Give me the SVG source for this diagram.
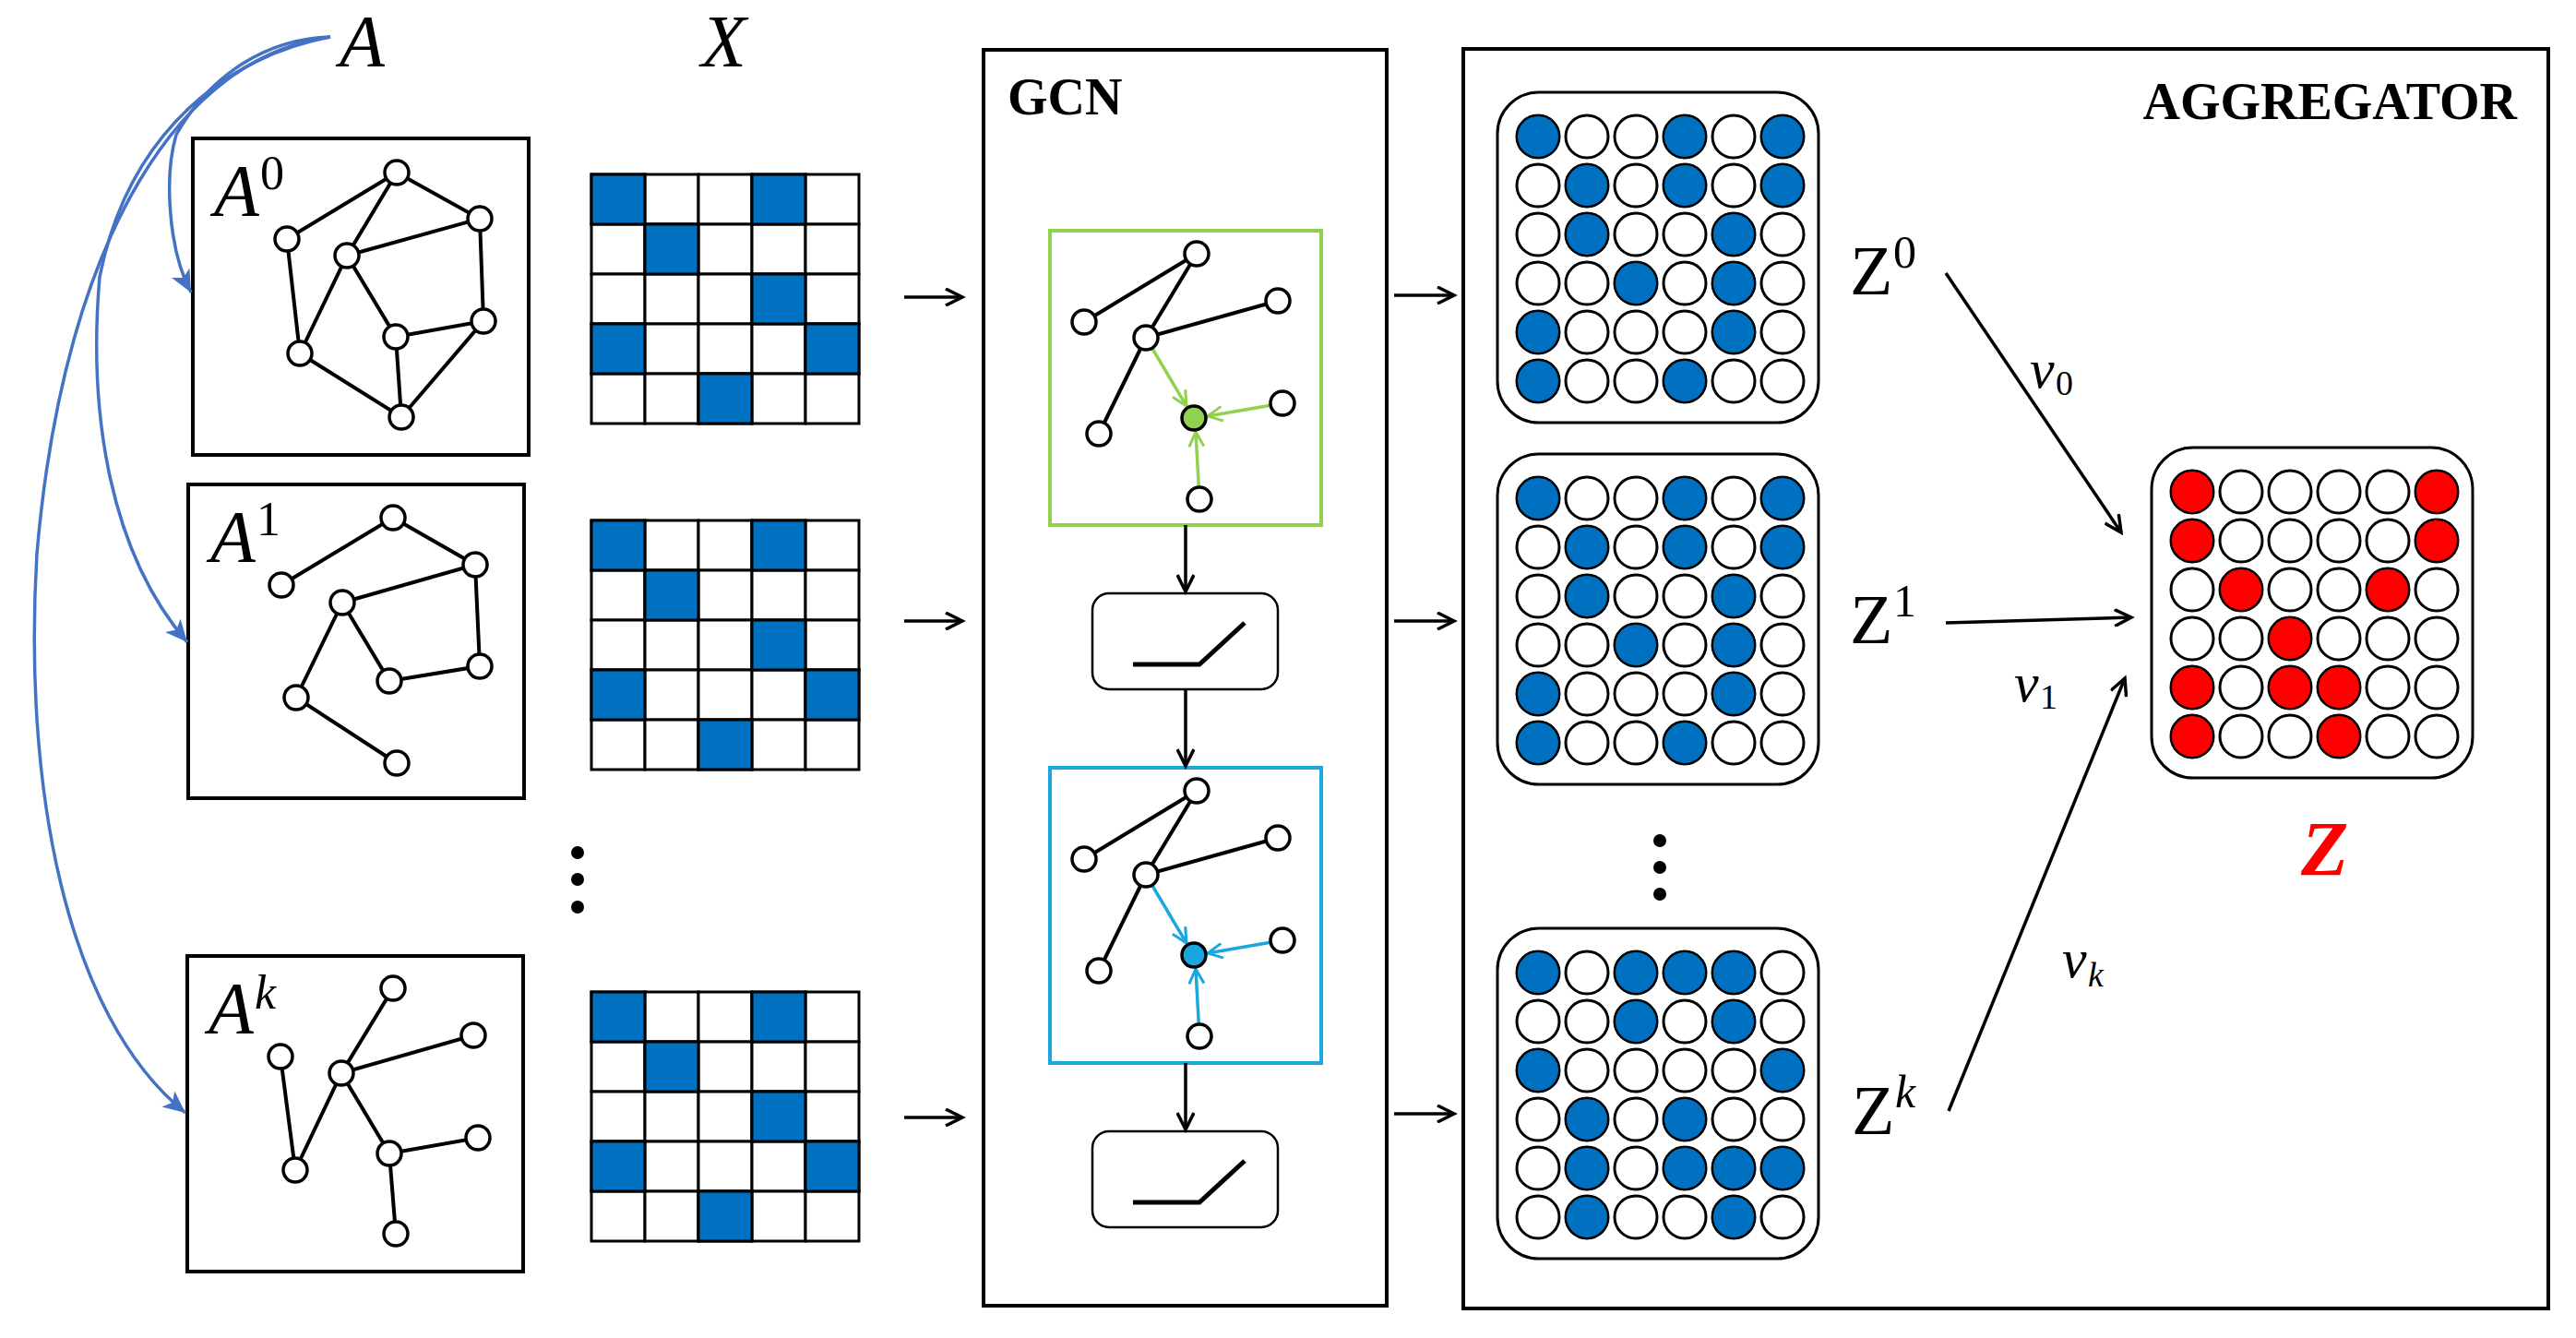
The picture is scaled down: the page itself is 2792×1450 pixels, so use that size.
<svg xmlns="http://www.w3.org/2000/svg" width="2792" height="1450" viewBox="0 0 2792 1450">
<style>
.bx{fill:#fff;stroke:#000;stroke-width:4}
.e{stroke:#000;stroke-width:4;fill:none}
.n{fill:#fff;stroke:#000;stroke-width:3.5}
.cell{fill:#fff;stroke:#000;stroke-width:3}
.bl{fill:#0070C0;stroke:#000;stroke-width:3}
.c{fill:#fff;stroke:#000;stroke-width:3}
.cb{fill:#0070C0;stroke:#000;stroke-width:2}
.cr{fill:#FF0000;stroke:#000;stroke-width:2}
.ar{stroke:#000;stroke-width:3.5;fill:none;marker-end:url(#ah)}
.blue{stroke:#4472C4;stroke-width:3.5;fill:none;marker-end:url(#bh)}
.m{font-family:"Liberation Serif",serif;font-style:italic}
.z{font-family:"Liberation Serif",serif}
.t{font-family:"Liberation Serif",serif;font-weight:bold}
</style>
<defs>
<marker id="ah" markerWidth="12" markerHeight="12" refX="10" refY="6" orient="auto" markerUnits="userSpaceOnUse" viewBox="0 0 12 12"><polyline points="0,0 10,6 0,12" fill="none" stroke="#000" stroke-width="2.5"/></marker>
<marker id="ah2" markerWidth="24" markerHeight="20" refX="20" refY="10" orient="auto" markerUnits="userSpaceOnUse" viewBox="0 0 24 20"><polyline points="2,1 20,10 2,19" fill="none" stroke="#000" stroke-width="3.5"/></marker>
<marker id="bh" markerWidth="26" markerHeight="22" refX="24" refY="11" orient="auto" markerUnits="userSpaceOnUse" viewBox="0 0 26 22"><polygon points="0,0 24,11 0,22 6,11" fill="#4472C4"/></marker>
<marker id="gh" markerWidth="20" markerHeight="18" refX="18" refY="9" orient="auto" markerUnits="userSpaceOnUse" viewBox="0 0 20 18"><polyline points="2,1 18,9 2,17" fill="none" stroke="#92D050" stroke-width="3"/></marker>
<marker id="ch" markerWidth="20" markerHeight="18" refX="18" refY="9" orient="auto" markerUnits="userSpaceOnUse" viewBox="0 0 20 18"><polyline points="2,1 18,9 2,17" fill="none" stroke="#1AA7E0" stroke-width="3"/></marker>
<g id="xm">
<rect class="cell" x="0" y="0" width="58" height="54"/><rect class="cell" x="58" y="0" width="58" height="54"/><rect class="cell" x="116" y="0" width="58" height="54"/><rect class="cell" x="174" y="0" width="58" height="54"/><rect class="cell" x="232" y="0" width="58" height="54"/>
<rect class="cell" x="0" y="54" width="58" height="54"/><rect class="cell" x="58" y="54" width="58" height="54"/><rect class="cell" x="116" y="54" width="58" height="54"/><rect class="cell" x="174" y="54" width="58" height="54"/><rect class="cell" x="232" y="54" width="58" height="54"/>
<rect class="cell" x="0" y="108" width="58" height="54"/><rect class="cell" x="58" y="108" width="58" height="54"/><rect class="cell" x="116" y="108" width="58" height="54"/><rect class="cell" x="174" y="108" width="58" height="54"/><rect class="cell" x="232" y="108" width="58" height="54"/>
<rect class="cell" x="0" y="162" width="58" height="54"/><rect class="cell" x="58" y="162" width="58" height="54"/><rect class="cell" x="116" y="162" width="58" height="54"/><rect class="cell" x="174" y="162" width="58" height="54"/><rect class="cell" x="232" y="162" width="58" height="54"/>
<rect class="cell" x="0" y="216" width="58" height="54"/><rect class="cell" x="58" y="216" width="58" height="54"/><rect class="cell" x="116" y="216" width="58" height="54"/><rect class="cell" x="174" y="216" width="58" height="54"/><rect class="cell" x="232" y="216" width="58" height="54"/>
<rect class="bl" x="0" y="0" width="58" height="54"/><rect class="bl" x="174" y="0" width="58" height="54"/><rect class="bl" x="58" y="54" width="58" height="54"/><rect class="bl" x="174" y="108" width="58" height="54"/><rect class="bl" x="0" y="162" width="58" height="54"/><rect class="bl" x="232" y="162" width="58" height="54"/><rect class="bl" x="116" y="216" width="58" height="54"/>
</g>
<g id="zm">
<rect x="-44" y="-48" width="348" height="358" rx="45" fill="#fff" stroke="#000" stroke-width="3"/>
<g class="c">
<circle cx="0" cy="0" r="23"/><circle cx="53" cy="0" r="23"/><circle cx="106" cy="0" r="23"/><circle cx="159" cy="0" r="23"/><circle cx="212" cy="0" r="23"/><circle cx="265" cy="0" r="23"/>
<circle cx="0" cy="53" r="23"/><circle cx="53" cy="53" r="23"/><circle cx="106" cy="53" r="23"/><circle cx="159" cy="53" r="23"/><circle cx="212" cy="53" r="23"/><circle cx="265" cy="53" r="23"/>
<circle cx="0" cy="106" r="23"/><circle cx="53" cy="106" r="23"/><circle cx="106" cy="106" r="23"/><circle cx="159" cy="106" r="23"/><circle cx="212" cy="106" r="23"/><circle cx="265" cy="106" r="23"/>
<circle cx="0" cy="159" r="23"/><circle cx="53" cy="159" r="23"/><circle cx="106" cy="159" r="23"/><circle cx="159" cy="159" r="23"/><circle cx="212" cy="159" r="23"/><circle cx="265" cy="159" r="23"/>
<circle cx="0" cy="212" r="23"/><circle cx="53" cy="212" r="23"/><circle cx="106" cy="212" r="23"/><circle cx="159" cy="212" r="23"/><circle cx="212" cy="212" r="23"/><circle cx="265" cy="212" r="23"/>
<circle cx="0" cy="265" r="23"/><circle cx="53" cy="265" r="23"/><circle cx="106" cy="265" r="23"/><circle cx="159" cy="265" r="23"/><circle cx="212" cy="265" r="23"/><circle cx="265" cy="265" r="23"/>
</g>
</g>
<g id="relu">
<rect x="0" y="0" width="201" height="104" rx="18" fill="#fff" stroke="#000" stroke-width="2.5"/>
<polyline points="44,77 116,77 165,32" fill="none" stroke="#000" stroke-width="5"/>
</g>
</defs>
<rect width="2792" height="1450" fill="#fff"/>

<text class="m" x="368" y="72" font-size="80">A</text>
<text class="m" x="760" y="72" font-size="80">X</text>

<g id="A0">
<rect class="bx" x="209" y="150" width="364" height="343"/>
<text class="m" x="232" y="234" font-size="80">A</text><text class="z" x="282" y="205" font-size="52">0</text>
<g class="e"><path d="M311,259L430,187L376,277M430,187L520,237L376,277M520,237L524,348M311,259L325,383L376,277L429,365L524,348L435,452L325,383M429,365L435,452"/></g>
<g class="n"><circle cx="430" cy="187" r="13"/><circle cx="520" cy="237" r="13"/><circle cx="311" cy="259" r="13"/><circle cx="376" cy="277" r="13"/><circle cx="524" cy="348" r="13"/><circle cx="429" cy="365" r="13"/><circle cx="325" cy="383" r="13"/><circle cx="435" cy="452" r="13"/></g>
</g>
<g id="A1">
<rect class="bx" x="204" y="525" width="364" height="340"/>
<text class="m" x="228" y="609" font-size="80">A</text><text class="z" x="278" y="580" font-size="52">1</text>
<g class="e"><path d="M305,634L426,561L515,612L371,653L422,738L520,722L515,612M371,653L321,756L430,827"/></g>
<g class="n"><circle cx="426" cy="561" r="13"/><circle cx="515" cy="612" r="13"/><circle cx="305" cy="634" r="13"/><circle cx="371" cy="653" r="13"/><circle cx="520" cy="722" r="13"/><circle cx="422" cy="738" r="13"/><circle cx="321" cy="756" r="13"/><circle cx="430" cy="827" r="13"/></g>
</g>
<g id="dots1"><circle cx="626" cy="924" r="7"/><circle cx="626" cy="953" r="7"/><circle cx="626" cy="983" r="7"/></g>
<g id="Ak">
<rect class="bx" x="203" y="1036" width="364" height="342"/>
<text class="m" x="226" y="1120" font-size="80">A</text><text class="m" x="276" y="1093" font-size="52">k</text>
<g class="e"><path d="M426,1071L370,1163L513,1122M304,1145L320,1268L370,1163L422,1250L518,1233M422,1250L429,1337"/></g>
<g class="n"><circle cx="426" cy="1071" r="13"/><circle cx="513" cy="1122" r="13"/><circle cx="304" cy="1145" r="13"/><circle cx="370" cy="1163" r="13"/><circle cx="518" cy="1233" r="13"/><circle cx="422" cy="1250" r="13"/><circle cx="320" cy="1268" r="13"/><circle cx="429" cy="1337" r="13"/></g>
</g>

<g id="X0"><use href="#xm" x="641" y="189"/></g>
<g id="X1"><use href="#xm" x="641" y="564"/></g>
<g id="Xk"><use href="#xm" x="641" y="1075"/></g>

<g id="GCN">
<rect x="1066" y="54" width="437" height="1361" fill="none" stroke="#000" stroke-width="4"/>
<text class="t" x="1092" y="124" font-size="56">GCN</text>
<rect x="1138" y="250" width="294" height="319" fill="#fff" stroke="#92D050" stroke-width="4"/>
<path class="e" stroke-width="3.5" d="M1175,349L1297,275L1242,366L1385,326M1242,366L1191,470"/>
<g stroke="#92D050" stroke-width="3.5" fill="none"><line x1="1242" y1="366" x2="1286" y2="440" marker-end="url(#gh)"/><line x1="1390" y1="437" x2="1309" y2="451" marker-end="url(#gh)"/><line x1="1300" y1="541" x2="1296" y2="468" marker-end="url(#gh)"/></g>
<g class="n"><circle cx="1297" cy="275" r="13"/><circle cx="1175" cy="349" r="13"/><circle cx="1242" cy="366" r="13"/><circle cx="1385" cy="326" r="13"/><circle cx="1390" cy="437" r="13"/><circle cx="1191" cy="470" r="13"/><circle cx="1300" cy="541" r="13"/><circle cx="1294" cy="453" r="13" fill="#92D050"/></g>
<use href="#relu" x="1184" y="643"/>
<rect x="1138" y="832" width="294" height="320" fill="#fff" stroke="#1AA7E0" stroke-width="4"/>
<path class="e" stroke-width="3.5" d="M1175,931L1297,857L1242,948L1385,908M1242,948L1191,1052"/>
<g stroke="#1AA7E0" stroke-width="3.5" fill="none"><line x1="1242" y1="948" x2="1286" y2="1022" marker-end="url(#ch)"/><line x1="1390" y1="1019" x2="1309" y2="1033" marker-end="url(#ch)"/><line x1="1300" y1="1123" x2="1296" y2="1050" marker-end="url(#ch)"/></g>
<g class="n"><circle cx="1297" cy="857" r="13"/><circle cx="1175" cy="931" r="13"/><circle cx="1242" cy="948" r="13"/><circle cx="1385" cy="908" r="13"/><circle cx="1390" cy="1019" r="13"/><circle cx="1191" cy="1052" r="13"/><circle cx="1300" cy="1123" r="13"/><circle cx="1294" cy="1035" r="13" fill="#1AA7E0"/></g>
<use href="#relu" x="1184" y="1226"/>
</g>

<g id="AGG">
<rect x="1586" y="53" width="1176" height="1365" fill="none" stroke="#000" stroke-width="4"/>
<text class="t" x="2728" y="129" font-size="56" text-anchor="end">AGGREGATOR</text>
<g id="Z0"><use href="#zm" x="1667" y="148"/>
<g class="cb"><circle cx="1667" cy="148" r="23"/><circle cx="1826" cy="148" r="23"/><circle cx="1932" cy="148" r="23"/><circle cx="1720" cy="201" r="23"/><circle cx="1826" cy="201" r="23"/><circle cx="1932" cy="201" r="23"/><circle cx="1720" cy="254" r="23"/><circle cx="1879" cy="254" r="23"/><circle cx="1773" cy="307" r="23"/><circle cx="1879" cy="307" r="23"/><circle cx="1667" cy="360" r="23"/><circle cx="1879" cy="360" r="23"/><circle cx="1667" cy="413" r="23"/><circle cx="1826" cy="413" r="23"/></g></g>
<g id="Z1"><use href="#zm" x="1667" y="540"/>
<g class="cb"><circle cx="1667" cy="540" r="23"/><circle cx="1826" cy="540" r="23"/><circle cx="1932" cy="540" r="23"/><circle cx="1720" cy="593" r="23"/><circle cx="1826" cy="593" r="23"/><circle cx="1932" cy="593" r="23"/><circle cx="1720" cy="646" r="23"/><circle cx="1879" cy="646" r="23"/><circle cx="1773" cy="699" r="23"/><circle cx="1879" cy="699" r="23"/><circle cx="1667" cy="752" r="23"/><circle cx="1879" cy="752" r="23"/><circle cx="1667" cy="805" r="23"/><circle cx="1826" cy="805" r="23"/></g></g>
<g id="dots2"><circle cx="1799" cy="911" r="7"/><circle cx="1799" cy="940" r="7"/><circle cx="1799" cy="969" r="7"/></g>
<g id="Zk"><use href="#zm" x="1667" y="1054"/>
<g class="cb"><circle cx="1667" cy="1054" r="23"/><circle cx="1773" cy="1054" r="23"/><circle cx="1826" cy="1054" r="23"/><circle cx="1879" cy="1054" r="23"/><circle cx="1773" cy="1107" r="23"/><circle cx="1879" cy="1107" r="23"/><circle cx="1667" cy="1160" r="23"/><circle cx="1932" cy="1160" r="23"/><circle cx="1720" cy="1213" r="23"/><circle cx="1826" cy="1213" r="23"/><circle cx="1720" cy="1266" r="23"/><circle cx="1826" cy="1266" r="23"/><circle cx="1879" cy="1266" r="23"/><circle cx="1932" cy="1266" r="23"/><circle cx="1720" cy="1319" r="23"/><circle cx="1879" cy="1319" r="23"/></g></g>
<g id="Zout"><use href="#zm" x="2376" y="533"/>
<g class="cr"><circle cx="2376" cy="533" r="23"/><circle cx="2641" cy="533" r="23"/><circle cx="2376" cy="586" r="23"/><circle cx="2641" cy="586" r="23"/><circle cx="2429" cy="639" r="23"/><circle cx="2588" cy="639" r="23"/><circle cx="2482" cy="692" r="23"/><circle cx="2376" cy="745" r="23"/><circle cx="2482" cy="745" r="23"/><circle cx="2535" cy="745" r="23"/><circle cx="2376" cy="798" r="23"/><circle cx="2535" cy="798" r="23"/></g>
<text class="m" x="2494" y="949" font-size="84" font-weight="bold" fill="#FF0000">Z</text></g>
<text class="z" x="2005" y="319" font-size="76">Z</text><text class="z" x="2052" y="290" font-size="50">0</text>
<text class="z" x="2005" y="697" font-size="76">Z</text><text class="z" x="2052" y="668" font-size="50">1</text>
<text class="z" x="2007" y="1229" font-size="76">Z</text><text class="m" x="2054" y="1200" font-size="50">k</text>
<text class="m" x="2200" y="420" font-size="60">v</text><text class="z" x="2228" y="428" font-size="38">0</text>
<text class="m" x="2183" y="760" font-size="60">v</text><text class="z" x="2211" y="768" font-size="38">1</text>
<text class="m" x="2235" y="1059" font-size="60">v</text><text class="m" x="2263" y="1069" font-size="38">k</text>
</g>

<g id="connectors">
<path class="blue" d="M358,40C290,42 228,80 191,146C178,190 182,270 207,317"/>
<path class="blue" d="M358,40C250,60 140,140 108,300C95,450 120,600 203,696"/>
<path class="blue" d="M358,40C200,60 70,250 40,600C25,850 70,1100 201,1206"/>
<g stroke="#000" stroke-width="3.5" fill="none">
<line x1="980" y1="322" x2="1043" y2="322" marker-end="url(#ah2)"/>
<line x1="980" y1="673" x2="1043" y2="673" marker-end="url(#ah2)"/>
<line x1="980" y1="1211" x2="1043" y2="1211" marker-end="url(#ah2)"/>
<line x1="1511" y1="320" x2="1576" y2="320" marker-end="url(#ah2)"/>
<line x1="1511" y1="673" x2="1576" y2="673" marker-end="url(#ah2)"/>
<line x1="1511" y1="1207" x2="1576" y2="1207" marker-end="url(#ah2)"/>
<line x1="1285" y1="569" x2="1285" y2="641" marker-end="url(#ah2)"/>
<line x1="1285" y1="747" x2="1285" y2="830" marker-end="url(#ah2)"/>
<line x1="1285" y1="1152" x2="1285" y2="1224" marker-end="url(#ah2)"/>
<line x1="2109" y1="296" x2="2299" y2="577" marker-end="url(#ah2)"/>
<line x1="2109" y1="675" x2="2310" y2="669" marker-end="url(#ah2)"/>
<line x1="2112" y1="1204" x2="2303" y2="735" marker-end="url(#ah2)"/>
</g>
</g>
</svg>
